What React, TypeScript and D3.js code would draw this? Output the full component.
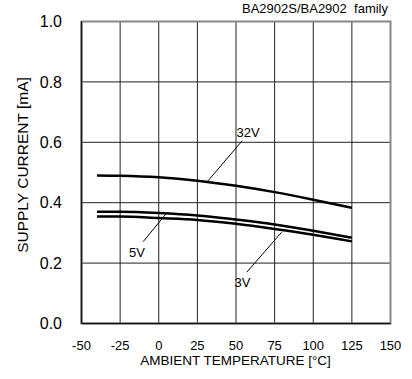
import React from "react";
import * as d3 from "d3";

const temps = [-40, -25, 0, 25, 50, 75, 100, 125];
const v32 = [0.49, 0.489, 0.484, 0.473, 0.456, 0.435, 0.41, 0.383];
const v5 = [0.37, 0.37, 0.366, 0.358, 0.344, 0.328, 0.307, 0.284];
const v3 = [0.354, 0.354, 0.349, 0.343, 0.33, 0.313, 0.294, 0.272];

const xTicks = [-50, -25, 0, 25, 50, 75, 100, 125, 150];
const yTicks = [0, 0.2, 0.4, 0.6, 0.8, 1.0];

// annotation: label, text anchor point (data), leader from, leader to (data)
const labels = [
  { text: "32V", tx: 50.3, ty: 0.618, x1: 31.8, y1: 0.472, x2: 54.0, y2: 0.605 },
  { text: "5V", tx: -19.2, ty: 0.22, x1: -10.1, y1: 0.271, x2: 5.0, y2: 0.365 },
  { text: "3V", tx: 49.0, ty: 0.121, x1: 57.0, y1: 0.17, x2: 79.5, y2: 0.302 },
];

const W = 412;
const H = 379;
const left = 81.5;
const right = 390.5;
const top = 21.5;
const bottom = 323.5;

const font = "Arial, 'Liberation Sans', Helvetica, sans-serif";

export default function App() {
  const x = d3.scaleLinear().domain([-50, 150]).range([left, right]);
  const y = d3.scaleLinear().domain([0, 1]).range([bottom, top]);
  const line = d3
    .line<number>()
    .x((_, i) => x(temps[i]))
    .y((d) => y(d))
    .curve(d3.curveMonotoneX);

  const series = [v32, v5, v3];

  return (
    <svg
      width={W}
      height={H}
      style={{ position: "absolute", left: 0, top: 0, background: "#fff" }}
      fontFamily={font}
    >
      <rect x={0} y={0} width={W} height={H} fill="#fff" />
      {/* grid */}
      {xTicks.slice(1, -1).map((t) => (
        <line key={"gx" + t} x1={x(t)} x2={x(t)} y1={top} y2={bottom} stroke="#222" strokeWidth={1} />
      ))}
      {yTicks.slice(1, -1).map((t) => (
        <line key={"gy" + t} x1={left} x2={right} y1={y(t)} y2={y(t)} stroke="#222" strokeWidth={1} />
      ))}
      {/* frame */}
      <rect x={left} y={top} width={right - left} height={bottom - top} fill="none" stroke="#888" strokeWidth={2} />
      <line x1={left} x2={left} y1={top} y2={bottom} stroke="#111" strokeWidth={1.5} />
      <line x1={left} x2={right} y1={bottom} y2={bottom} stroke="#111" strokeWidth={1.5} />

      {/* series */}
      {series.map((s, i) => (
        <path key={"s" + i} d={line(s) || ""} fill="none" stroke="#000" strokeWidth={2.5} />
      ))}

      {/* labels */}
      {labels.map((l) => (
        <g key={l.text}>
          <line x1={x(l.x1)} y1={y(l.y1)} x2={x(l.x2)} y2={y(l.y2)} stroke="#000" strokeWidth={1} />
          <text x={x(l.tx)} y={y(l.ty)} fontSize={13} fill="#000">
            {l.text}
          </text>
        </g>
      ))}

      {/* y ticks */}
      {yTicks.map((t) => (
        <text key={"yt" + t} x={62} y={y(t)} dy="0.35em" textAnchor="end" fontSize={16} fill="#000">
          {t.toFixed(1)}
        </text>
      ))}
      {/* x ticks */}
      {xTicks.map((t) => (
        <text key={"xt" + t} x={x(t)} y={349.5} textAnchor="middle" fontSize={13} fill="#000">
          {t}
        </text>
      ))}
      <text x={(left + right) / 2 - 0.5} y={364.5} textAnchor="middle" fontSize={13.5} fill="#000">
        AMBIENT TEMPERATURE [°C]
      </text>
      <text
        transform={`translate(27.5, 165) rotate(-90)`}
        textAnchor="middle"
        fontSize={15.5}
        fill="#000"
      >
        SUPPLY CURRENT [mA]
      </text>
      <text x={388} y={13} textAnchor="end" fontSize={13} fill="#000">
        BA2902S/BA2902{"\u00a0\u00a0"}family
      </text>
    </svg>
  );
}
